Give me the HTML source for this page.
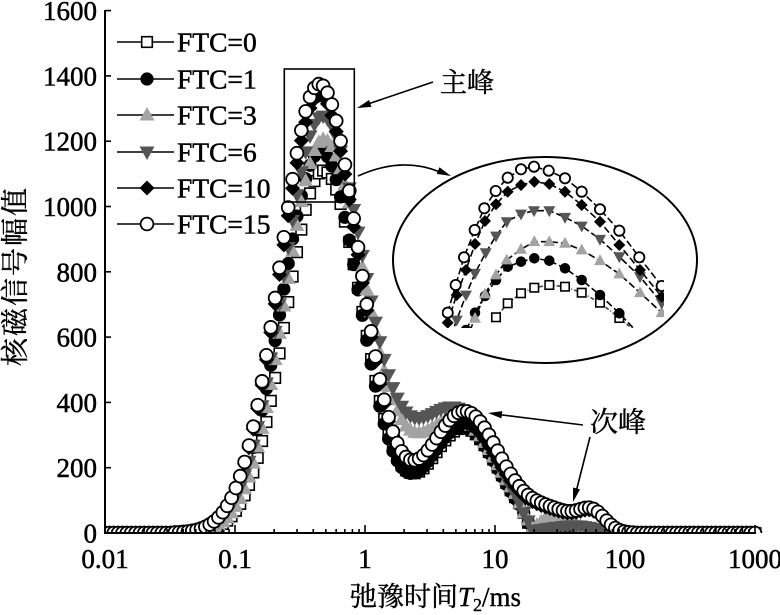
<!DOCTYPE html>
<html><head><meta charset="utf-8"><style>
html,body{margin:0;padding:0;background:#fff;width:780px;height:615px;overflow:hidden;}
svg{display:block;}
</style></head><body>
<svg id="s" width="780" height="615" viewBox="0 0 780 615" xmlns="http://www.w3.org/2000/svg">
<defs>
<clipPath id="pc"><rect x="105" y="0" width="665" height="533"/></clipPath>
<clipPath id="ic"><rect x="442" y="150" width="222" height="178"/></clipPath>
</defs>
<rect width="780" height="615" fill="#fff"/>
<g id="data" clip-path="url(#pc)"></g>
<g id="axes" stroke="#000" stroke-width="2" fill="none">
<line x1="105" y1="10" x2="105" y2="534"/>
<line x1="104" y1="533" x2="756" y2="533"/>
</g>
<g id="ticks" stroke="#000" stroke-width="1.6"></g>
<g id="labels" font-family="'Liberation Serif', serif" font-size="27" fill="#000" stroke="#000" stroke-width="0.5"></g>
<text x="16" y="276" transform="rotate(-90 16 276)" text-anchor="middle" dominant-baseline="central" font-family="'Liberation Serif','Noto Serif CJK SC',serif" font-size="28" letter-spacing="2" stroke="#000" stroke-width="0.4">核磁信号幅值</text>
<text x="350" y="606" font-family="'Liberation Serif','Noto Serif CJK SC',serif" font-size="27" stroke="#000" stroke-width="0.4"><tspan>弛豫时间</tspan><tspan font-style="italic">T</tspan><tspan font-size="18" dy="5">2</tspan><tspan dy="-5">/ms</tspan></text>
<g id="legend"></g>
<rect x="284.3" y="69" width="70" height="133" fill="none" stroke="#000" stroke-width="1.6"/>
<ellipse cx="545" cy="260" rx="152" ry="103" fill="none" stroke="#000" stroke-width="2"/>
<g id="inset" clip-path="url(#ic)"></g>
<g id="ann" stroke="#000" stroke-width="1.6" fill="none"></g>
<text x="440" y="83" dominant-baseline="central" font-family="'Liberation Serif','Noto Serif CJK SC',serif" font-size="27" stroke="#000" stroke-width="0.4">主峰</text>
<text x="590" y="423" dominant-baseline="central" font-family="'Liberation Serif','Noto Serif CJK SC',serif" font-size="28" stroke="#000" stroke-width="0.4">次峰</text>
</svg>
<script>
(function(){
function X(u){return 365+130*u;}
function Y(v){return 533-v*0.3265;}
function r2(n){return Math.round(n*100)/100;}
function g(u,A,c,sL,sR){var s=u<c?sL:sR;return A*Math.exp(-(u-c)*(u-c)/(2*s*s));}
function ramp(u){return Math.max(0,(1.29-u)*900);}
function mk(t,x,y,k){
  x=Number(x);y=Number(y);k=k||1;
  if(t==='sq'){var h=5.3*k;return '<rect x="'+r2(x-h)+'" y="'+r2(y-h)+'" width="'+r2(2*h)+'" height="'+r2(2*h)+'" fill="#fff" stroke="#000" stroke-width="1.6"/>';}
  if(t==='fc'){return '<circle cx="'+r2(x)+'" cy="'+r2(y)+'" r="'+r2(6.6*k)+'" fill="#000"/>';}
  if(t==='oc'){return '<circle cx="'+r2(x)+'" cy="'+r2(y)+'" r="'+r2(6.4*k)+'" fill="#fff" stroke="#000" stroke-width="1.8"/>';}
  if(t==='ut'){return '<polygon points="'+r2(x)+','+r2(y-8*k)+' '+r2(x+7.5*k)+','+r2(y+5.5*k)+' '+r2(x-7.5*k)+','+r2(y+5.5*k)+'" fill="#a3a3a3"/>';}
  if(t==='dt'){return '<polygon points="'+r2(x)+','+r2(y+8*k)+' '+r2(x+7.5*k)+','+r2(y-5.5*k)+' '+r2(x-7.5*k)+','+r2(y-5.5*k)+'" fill="#555"/>';}
  if(t==='di'){return '<polygon points="'+r2(x)+','+r2(y-7.5*k)+' '+r2(x+7.5*k)+','+r2(y)+' '+r2(x)+','+r2(y+7.5*k)+' '+r2(x-7.5*k)+','+r2(y)+'" fill="#000"/>';}
  return '';
}
var series=[
 {m:'sq',f:function(u){return Math.min(g(u,1110,-0.32,0.285,0.30)+g(u,320,0.76,0.26,0.27),ramp(u));}},
 {m:'fc',f:function(u){return Math.min(g(u,1170,-0.34,0.30,0.30)+g(u,325,0.75,0.26,0.27),ramp(u));}},
 {m:'ut',f:function(u){return Math.min(g(u,1205,-0.32,0.29,0.33)+g(u,345,0.72,0.30,0.30),ramp(u))+(u>1.25?g(u,55,1.45,0.1,0.15):0);}},
 {m:'dt',f:function(u){return Math.min(g(u,1275,-0.33,0.30,0.33)+g(u,375,0.70,0.32,0.30),ramp(u))+(u>1.25?g(u,22,1.62,0.22,0.15):0);}},
 {m:'di',f:function(u){return g(u,1340,-0.35,0.30,0.31)+g(u,335,0.76,0.27,0.28)+g(u,55,1.45,0.2,0.2)+g(u,50,1.75,0.1,0.1);}},
 {m:'oc',f:function(u){return g(u,1375,-0.35,0.30,0.31)+g(u,371,0.77,0.276,0.276)+g(u,60,1.45,0.2,0.2)+g(u,55,1.75,0.1,0.1);}}
];
var N=150,h='';
series.forEach(function(s){
  for(var i=0;i<N;i++){
    var u=-2+5*i/(N-1);
    var v=s.f(u); if(v<1)v=0;
    h+=mk(s.m,X(u),Y(v));
  }
});
document.getElementById('data').innerHTML=h;
var t='';
for(var v=0;v<=1600;v+=200){var y=Y(v);t+='<line x1="105" y1="'+y+'" x2="111" y2="'+y+'"/>';}
for(var d=-2;d<=3;d++){
  var x=X(d);t+='<line x1="'+x+'" y1="533" x2="'+x+'" y2="525"/>';
  if(d<3)for(var k=2;k<=9;k++){var xm=r2(X(d+Math.log10(k)));t+='<line x1="'+xm+'" y1="533" x2="'+xm+'" y2="529"/>';}
}
document.getElementById('ticks').innerHTML=t;
var l='';
for(var v=0;v<=1600;v+=200){l+='<text x="97" y="'+r2(Y(v)+9.5)+'" text-anchor="end">'+v+'</text>';}
var xl=['0.01','0.1','1','10','100','1000'];
for(var d=0;d<6;d++){l+='<text x="'+X(d-2)+'" y="568" text-anchor="middle">'+xl[d]+'</text>';}
document.getElementById('labels').innerHTML=l;
var names=['FTC=0','FTC=1','FTC=3','FTC=6','FTC=10','FTC=15'];
var ms=['sq','fc','ut','dt','di','oc'];
var ly=[42,79,115,152,188,224],lg='';
for(var i=0;i<6;i++){
  lg+='<line x1="117" y1="'+ly[i]+'" x2="174" y2="'+ly[i]+'" stroke="#000" stroke-width="1.6"/>';
  lg+=mk(ms[i],147,ly[i]);
  lg+='<text x="177" y="'+(ly[i]+9.5)+'" font-family="\'Liberation Serif\', serif" font-size="27.5" stroke="#000" stroke-width="0.5">'+names[i]+'</text>';
}
document.getElementById('legend').innerHTML=lg;
var ins={
 sq:[[496,317.3],[507.7,303.3],[521,293.3],[534.3,287.7],[549.3,285],[565,286.7],[581.7,292.7],[600,302.7],[619.3,318],[640,335]],
 fc:[[466,330],[475,312.7],[485,296],[496,280],[507.7,266.7],[521,261.7],[534.3,258.3],[549.3,260.7],[565,268.3],[581.7,280],[600,295],[619.3,313.3],[640,335]],
 ut:[[466,340],[475,318.3],[485,294],[496,275],[506.7,260],[521,249.3],[534.3,241.7],[549.3,241.7],[565,243.3],[581.7,250],[600,260.7],[619.3,274],[640,292.7],[661.7,312.7]],
 dt:[[447.7,345],[456.7,320],[466,295],[475,273.3],[485.7,252.7],[496,236],[506.7,221.7],[521,214],[534,210.7],[549.3,210.7],[565,217.3],[581.7,226],[600,239.3],[619.3,256.7],[640,276.7],[661.7,303]],
 di:[[447.7,322.7],[456.7,295],[466,270],[475,244],[485,221],[496,204.3],[507.7,191.7],[521,185],[534.3,181.7],[549.3,184],[565,191.7],[581.7,205],[600,221.7],[619.3,245],[640,270],[661.7,296.7]],
 oc:[[447.7,312.7],[455.7,285],[464,257.3],[474.7,230],[484.3,208.3],[495.7,191],[507.7,177.7],[521,169.3],[534,166.7],[548.7,170.7],[565,178.3],[581.7,191.7],[600,209.3],[619.3,230.7],[639.3,257.3],[661.7,286]]
};
var ih='';
ms.forEach(function(m){
  var p=ins[m];
  ih+='<polyline points="'+p.map(function(a){return a.join(',');}).join(' ')+'" fill="none" stroke="'+(m==='sq'?'#444':'#000')+'" stroke-width="1.6" stroke-dasharray="'+(m==='sq'?'4,2,1,2':'7,3')+'"/>';
  p.forEach(function(a){ih+=mk(m,a[0],a[1],0.8);});
});
document.getElementById('inset').innerHTML=ih;
function head(sx,sy,tx,ty){
  var dx=tx-sx,dy=ty-sy,L=Math.sqrt(dx*dx+dy*dy);dx/=L;dy/=L;
  var len=14,w=3.6,bx=tx-dx*len,by=ty-dy*len;
  return '<polygon points="'+tx+','+ty+' '+r2(bx-dy*w)+','+r2(by+dx*w)+' '+r2(bx+dy*w)+','+r2(by-dx*w)+'" fill="#000" stroke="none"/>';
}
var a='';
a+='<line x1="433" y1="82" x2="362" y2="106"/>'+head(433,82,357,108);
a+='<path d="M358,176 Q402,156 440,172"/>'+head(432,168,451,176);
a+='<line x1="583" y1="425" x2="494" y2="414"/>'+head(583,425,488,413);
a+='<line x1="590" y1="437" x2="575" y2="496"/>'+head(590,437,573,502);
document.getElementById('ann').innerHTML=a;
})();
</script>
</body></html>
